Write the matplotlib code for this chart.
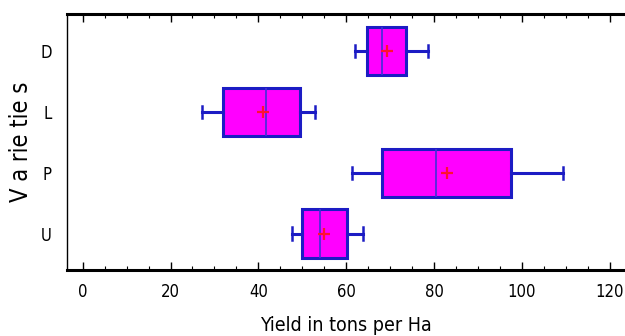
import matplotlib
matplotlib.use('Agg')
import matplotlib.pyplot as plt
from matplotlib.ticker import MultipleLocator

# datos
varieties = ['D', 'L', 'P', 'U']
whislo = [62.1, 27.2, 61.3, 47.6]
q1 = [64.8, 31.9, 68.1, 49.9]
med = [68.2, 41.7, 80.5, 54.1]
q3 = [73.6, 49.6, 97.6, 60.2]
whishi = [78.6, 52.8, 109.3, 63.9]
means = [69.3, 41.0, 82.9, 55.0]

plt.rcParams['font.family'] = ['DejaVu Sans']
plt.rcParams['font.stretch'] = 'condensed'

stats = []
for i in range(len(varieties)):
    stats.append({'label': varieties[i], 'whislo': whislo[i], 'q1': q1[i],
                  'med': med[i], 'q3': q3[i], 'whishi': whishi[i], 'mean': means[i]})

pos = [4, 3, 2, 1]
blue = '#1c1cc4'

fig = plt.figure(figsize=(6.25, 3.36), dpi=100)
ax = fig.add_axes([0.107, 0.196, 0.893, 0.762])

ax.bxp(stats, positions=pos, vert=False, widths=0.79, patch_artist=True,
       showmeans=True, showfliers=False,
       boxprops=dict(facecolor='#ff00ff', edgecolor=blue, linewidth=2.2),
       medianprops=dict(color='#4030d8', linewidth=1.2),
       whiskerprops=dict(color=blue, linewidth=2.2),
       capprops=dict(color=blue, linewidth=1.8),
       capwidths=0.2,
       meanprops=dict(marker='+', markeredgecolor='#ff1030', markersize=9, markeredgewidth=1.6))

ax.set_xlim(-3.6, 123.5)
ax.set_ylim(0.4, 4.6)
ax.set_yticks(pos)
ax.set_yticklabels(varieties)
ax.xaxis.set_major_locator(MultipleLocator(20))
ax.xaxis.set_minor_locator(MultipleLocator(5))
ax.tick_params(axis='x', which='major', direction='in', top=True, length=6, width=1, labelsize=12, pad=9)
ax.tick_params(axis='x', which='minor', direction='in', top=True, length=3, width=0.8)
ax.tick_params(axis='y', length=0, labelsize=12, pad=11)

ax.spines['top'].set_linewidth(2.2)
ax.spines['bottom'].set_linewidth(2.2)
ax.spines['left'].set_linewidth(1.0)
ax.spines['right'].set_visible(False)

ax.set_xlabel('Yield in tons per Ha', fontsize=14, labelpad=11)
ax.set_ylabel('V a rie tie s', fontsize=17, labelpad=5)

plt.savefig('out.png')
